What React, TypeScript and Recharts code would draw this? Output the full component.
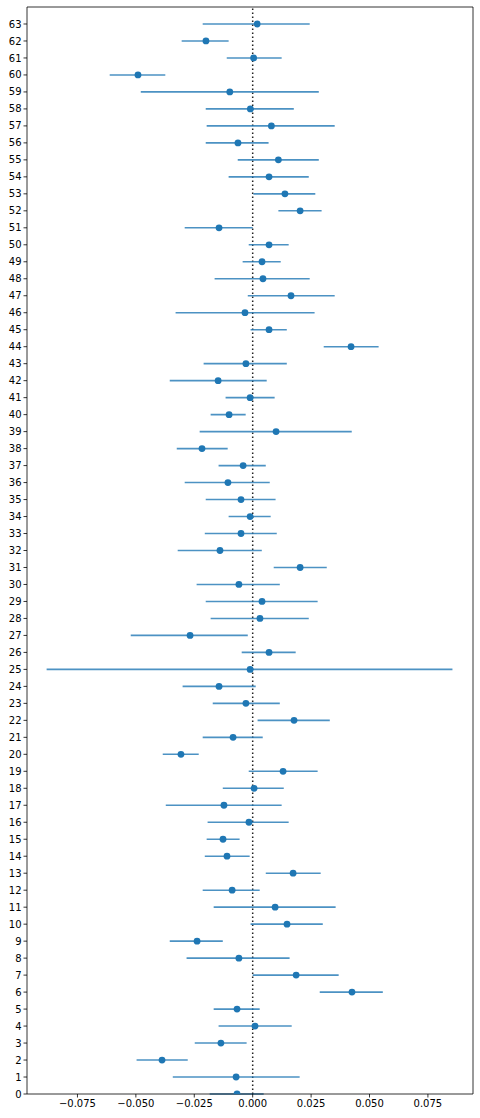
import { ScatterChart, Scatter, XAxis, YAxis, ErrorBar, ReferenceLine } from 'recharts'

// point estimates, row 0 .. 63
const means = [
  -0.0067, -0.0071, -0.0388, -0.0136, 0.001, -0.0067, 0.0425, 0.0186, -0.0059, -0.0238,
  0.0147, 0.0096, -0.0088, 0.0173, -0.011, -0.0127, -0.0016, -0.0123, 0.0006, 0.013,
  -0.0307, -0.0084, 0.0177, -0.0029, -0.0144, -0.0011, 0.007, -0.0268, 0.0031, 0.004,
  -0.0059, 0.0203, -0.014, -0.005, -0.0011, -0.005, -0.0106, -0.0041, -0.0217, 0.01,
  -0.0101, -0.0011, -0.0148, -0.0029, 0.0421, 0.007, -0.0033, 0.0164, 0.0044, 0.004,
  0.007, -0.0144, 0.0203, 0.0138, 0.007, 0.011, -0.0063, 0.008, -0.001, -0.0098,
  -0.0491, 0.0004, -0.02, 0.0019,
]

// lower interval ends
const lows = [
  -0.0184, -0.0342, -0.0497, -0.0248, -0.0146, -0.0167, 0.0287, 0.0, -0.0283, -0.0355,
  -0.0009, -0.0167, -0.0214, 0.0056, -0.0205, -0.0197, -0.0193, -0.0372, -0.0128, -0.0017,
  -0.0385, -0.0214, 0.0021, -0.0171, -0.03, -0.0882, -0.0047, -0.0522, -0.018, -0.0201,
  -0.024, 0.009, -0.0321, -0.0205, -0.0103, -0.0201, -0.0291, -0.0146, -0.0325, -0.0227,
  -0.018, -0.0116, -0.0355, -0.021, 0.0304, -0.0009, -0.033, -0.0021, -0.0163, -0.0043,
  -0.0017, -0.0291, 0.011, 0.0003, -0.0103, -0.0064, -0.0201, -0.0197, -0.0201, -0.0479,
  -0.0612, -0.0111, -0.0304, -0.0214,
]

// upper interval ends
const highs = [
  0.0047, 0.0201, -0.0278, -0.0026, 0.0167, 0.003, 0.0557, 0.0368, 0.0158, -0.0128,
  0.03, 0.0355, 0.003, 0.0291, -0.0013, -0.0056, 0.0154, 0.0124, 0.0133, 0.0278,
  -0.0231, 0.0043, 0.033, 0.0116, 0.0013, 0.0855, 0.0184, -0.0021, 0.024, 0.0278,
  0.0116, 0.0317, 0.0039, 0.0103, 0.0077, 0.0098, 0.0073, 0.0056, -0.0107, 0.0424,
  -0.003, 0.0094, 0.006, 0.0146, 0.0539, 0.0146, 0.0265, 0.0351, 0.0244, 0.012,
  0.0154, 0.0, 0.0295, 0.0268, 0.024, 0.0283, 0.0068, 0.0351, 0.0176, 0.0283,
  -0.0374, 0.0124, -0.0103, 0.0244,
]

const xTicks = [-0.075, -0.05, -0.025, 0, 0.025, 0.05, 0.075]
const rowTicks = means.map((_, i) => i)
const X_DOMAIN = [-0.0966, 0.0943]
const Y_DOMAIN = [0, 64]

const data = means.map((m, i) => ({ x: m, y: i, err: [m - lows[i], highs[i] - m] }))

const BLUE = '#1f77b4'
const tickStyle = { fontFamily: 'DejaVu Sans', fontSize: 10, fill: '#000' }
const fmt = (v: number) => (v < 0 ? '\u2212' : '') + Math.abs(v).toFixed(3)

export default function App() {
  return (
    <div style={{ position: 'absolute', left: 0, top: 0, width: 480, height: 1118, background: '#fff' }}>
      <ScatterChart width={480} height={1118} margin={{ top: 7, right: 7, bottom: 0, left: 0 }}>
        <XAxis
          type="number"
          dataKey="x"
          domain={X_DOMAIN}
          ticks={xTicks}
          tickFormatter={fmt}
          height={24}
          tick={tickStyle}
          tickSize={3.5}
          tickMargin={2}
          stroke="#000"
          strokeWidth={0.8}
          allowDataOverflow
        />
        <YAxis
          type="number"
          dataKey="y"
          domain={Y_DOMAIN}
          ticks={rowTicks}
          interval={0}
          width={27}
          tick={tickStyle}
          tickSize={3.5}
          tickMargin={2}
          stroke="#000"
          strokeWidth={0.8}
          allowDataOverflow
        />
        {/* top and right spines */}
        <ReferenceLine y={Y_DOMAIN[1]} stroke="#000" strokeWidth={0.8} ifOverflow="visible" />
        <ReferenceLine x={X_DOMAIN[1]} stroke="#000" strokeWidth={0.8} ifOverflow="visible" />
        <ReferenceLine x={0} stroke="#222" strokeWidth={1.5} strokeDasharray="1.5 2.5" />
        <Scatter
          data={data}
          isAnimationActive={false}
          fill={BLUE}
          shape={(p: any) => <circle cx={p.cx} cy={p.cy} r={3.4} fill={BLUE} />}
        >
          <ErrorBar dataKey="err" direction="x" width={0} stroke={BLUE} strokeOpacity={0.8} strokeWidth={1.6} isAnimationActive={false} />
        </Scatter>
      </ScatterChart>
    </div>
  )
}
